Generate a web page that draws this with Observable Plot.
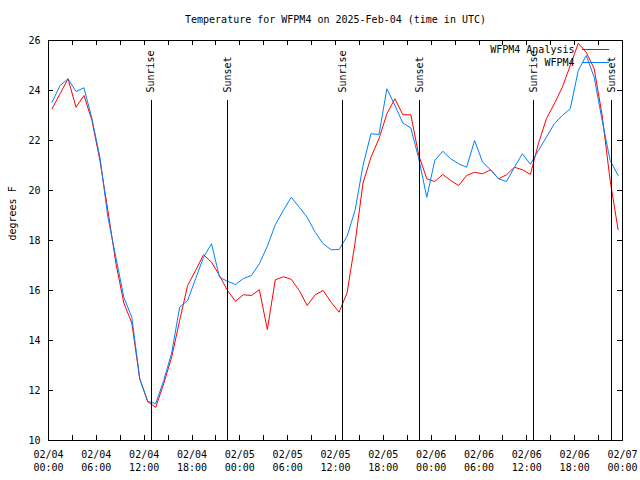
<!DOCTYPE html>
<html>
<head>
<meta charset="utf-8">
<script src="https://cdn.jsdelivr.net/npm/d3@7"></script>
<script src="https://cdn.jsdelivr.net/npm/@observablehq/plot@0.6"></script>
<style>
  html, body { margin: 0; padding: 0; background: white; }
</style>
</head>
<body>
<div id="chart"></div>
<script>
// ---- data ----
const titleText = "Temperature for WFPM4 on 2025-Feb-04 (time in UTC)";
const yLabel = "degrees F";
const seriesNames = ["WFPM4 Analysis", "WFPM4"];
const seriesColors = ["#ff0000", "#0080ff"];

// hourly observation times (first sample at 02/04 00:27 UTC)
const firstSample = "2025-02-04T00:27:00Z";

const analysis = [
  23.27, 23.87, 24.47, 23.33, 23.8, 22.8, 21.2, 19.2, 17.1, 15.5,
  14.7, 12.45, 11.55, 11.33, 12.27, 13.33, 14.8, 16.2, 16.8, 17.43,
  17.13, 16.6, 16.0, 15.57, 15.83, 15.8, 16.03, 14.44, 16.43, 16.55,
  16.45, 16.0, 15.4, 15.83, 16.0, 15.53, 15.13, 15.9, 17.9, 20.3,
  21.33, 22.07, 23.07, 23.67, 23.03, 23.03, 21.4, 20.47, 20.36, 20.64,
  20.4, 20.2, 20.6, 20.73, 20.67, 20.83, 20.47, 20.63, 20.93, 20.83,
  20.64, 21.87, 22.87, 23.47, 24.13, 25.0, 25.89, 25.53, 24.87, 23.0,
  20.4, 18.43
];

const observed = [
  23.53, 24.2, 24.47, 23.96, 24.11, 22.87, 21.33, 18.93, 17.33, 15.73,
  14.93, 12.47, 11.57, 11.47, 12.4, 13.5, 15.33, 15.6, 16.47, 17.33,
  17.87, 16.53, 16.37, 16.24, 16.48, 16.6, 17.07, 17.77, 18.63, 19.2,
  19.73, 19.33, 18.93, 18.33, 17.87, 17.63, 17.64, 18.17, 19.2, 21.0,
  22.27, 22.24, 24.07, 23.4, 22.7, 22.5, 21.27, 19.73, 21.2, 21.57,
  21.27, 21.07, 20.93, 22.0, 21.13, 20.83, 20.47, 20.36, 20.93, 21.47,
  21.05, 21.6, 22.13, 22.67, 23.0, 23.27, 24.8, 25.4, 24.53, 22.8,
  21.2, 20.6
];

const sunTimes = [
  "2025-02-04T12:53:00Z", "2025-02-04T22:30:00Z",
  "2025-02-05T12:55:00Z", "2025-02-05T22:35:00Z",
  "2025-02-06T12:53:00Z", "2025-02-06T22:40:00Z"
];
const sunLabels = ["Sunrise", "Sunset", "Sunrise", "Sunset", "Sunrise", "Sunset"];
const sunLineTop = 23.6;

const xDomain = ["2025-02-04T00:00:00Z", "2025-02-07T00:00:00Z"];
const yDomain = [10, 26];
const yTicks = [10, 12, 14, 16, 18, 20, 22, 24, 26];

// ---- build tables ----
const t0 = new Date(firstSample);
const rows = analysis.map((v, i) => ({
  time: d3.utcHour.offset(t0, i),
  analysis: v,
  observed: observed[i]
}));
const sunEvents = sunTimes.map((t, i) => ({time: new Date(t), label: sunLabels[i]}));
const xStart = new Date(xDomain[0]), xEnd = new Date(xDomain[1]);
const xMajor = d3.utcHour.every(6).range(xStart, d3.utcHour.offset(xEnd, 1));
const xMinor = d3.utcHour.every(3).range(xStart, d3.utcHour.offset(xEnd, 1));
const fmt = d3.utcFormat("%m/%d\n%H:%M");

const W = 640, H = 480, mL = 48, mR = 18, mT = 40, mB = 40;
const frameW = W - mL - mR, frameH = H - mT - mB;
const tickLen = 5;

const plot = Plot.plot({
  width: W, height: H,
  marginLeft: mL, marginRight: mR, marginTop: mT, marginBottom: mB,
  style: {
    fontFamily: "'DejaVu Sans Mono', monospace",
    fontSize: "10px",
    background: "white",
    color: "black",
    overflow: "visible"
  },
  x: {type: "utc", domain: [xStart, xEnd]},
  y: {domain: yDomain},
  marks: [
    // axes labels
    Plot.axisX({ticks: xMajor, tickSize: 0, tickPadding: 8, tickFormat: fmt, lineHeight: 1.3, label: null}),
    Plot.axisY({ticks: yTicks, tickSize: 0, tickPadding: 8, label: null}),
    // inward ticks
    Plot.tickX(xMinor, {x: d => d, insetTop: frameH - tickLen, stroke: "black", shapeRendering: "crispEdges"}),
    Plot.tickX(xMinor, {x: d => d, insetBottom: frameH - tickLen, stroke: "black", shapeRendering: "crispEdges"}),
    Plot.tickY(yTicks, {y: d => d, insetRight: frameW - tickLen, stroke: "black", shapeRendering: "crispEdges"}),
    Plot.tickY(yTicks, {y: d => d, insetLeft: frameW - tickLen, stroke: "black", shapeRendering: "crispEdges"}),
    // series
    Plot.line(rows, {x: "time", y: "analysis", stroke: seriesColors[0], strokeWidth: 1}),
    Plot.line(rows, {x: "time", y: "observed", stroke: seriesColors[1], strokeWidth: 1}),
    // sunrise / sunset markers
    Plot.ruleX(sunEvents, {x: "time", y1: yDomain[0], y2: sunLineTop, stroke: "black", strokeWidth: 1, shapeRendering: "crispEdges"}),
    Plot.text(sunEvents, {x: "time", y: sunLineTop, text: "label", rotate: -90, textAnchor: "start", lineAnchor: "middle", dy: -8, fill: "black"}),
    // frame
    Plot.frame({stroke: "black", shapeRendering: "crispEdges"}),
    // legend
    ...seriesNames.flatMap((name, i) => [
      Plot.text([name], {frameAnchor: "top-right", text: d => d, textAnchor: "end", lineAnchor: "middle", dx: -48, dy: 9 + 13 * i, fill: "black"}),
      Plot.ruleY([yDomain[1]], {dy: 9 + 13 * i, insetLeft: 534, insetRight: 13, stroke: seriesColors[i], strokeWidth: 1})
    ]),
    // title and y label
    Plot.text([titleText], {frameAnchor: "top", text: d => d, lineAnchor: "middle", dy: -21, fill: "black"}),
    Plot.text([yLabel], {frameAnchor: "left", text: d => d, rotate: -90, lineAnchor: "middle", dx: -36, fill: "black"})
  ]
});
document.getElementById("chart").appendChild(plot);
</script>
</body>
</html>
